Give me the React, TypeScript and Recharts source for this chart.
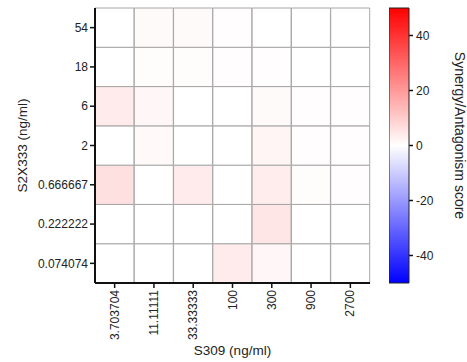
import React from "react";
import { BarChart, Bar, XAxis, YAxis, Cell } from "recharts";

const xLabels = ["3.703704", "11.11111", "33.33333", "100", "300", "900", "2700"];
// rows listed bottom -> top
const yLabels = ["0.074074", "0.222222", "0.666667", "2", "6", "18", "54"];
const scores: number[][] = [
  [0, 0, 0, 4, 1.5, 0, 0], // 0.074074
  [0, 0, 0, 0, 5, 0, 0], // 0.222222
  [6, 0, 4, 0, 3.5, 0.5, 0.3], // 0.666667
  [0, 1.2, 0, 0, 2, 0.3, 0.3], // 2
  [4, 1.5, 0, 0, 1, 0.3, 0.3], // 6
  [0, 0.5, 0.5, 0.3, 0.3, 0, 0], // 18
  [0, 1, 1, 0.4, 0, 0, 0], // 54
];
const colorTicks = [-40, -20, 0, 20, 40];
const colorMin = -50;
const colorMax = 50;

const FONT = "'Liberation Sans', Arial, sans-serif";
const TXT = "#222";

function scoreColor(v: number): string {
  const t = Math.max(-1, Math.min(1, v / colorMax));
  if (t >= 0) {
    const g = Math.round(255 * (1 - t));
    return `rgb(255,${g},${g})`;
  }
  const r = Math.round(255 * (1 + t));
  return `rgb(${r},${r},255)`;
}

const rowKeys = yLabels.map((_, i) => `r${i}`);
const data = xLabels.map((x) => {
  const o: Record<string, any> = { x };
  rowKeys.forEach((k) => (o[k] = 1));
  return o;
});
const yTicks = yLabels.map((_, i) => i + 0.5);

const XTick = (props: any) => {
  const { x, y, payload } = props;
  return (
    <g transform={`translate(${x},${y})`}>
      <text x={0} y={0} dy={4} transform="rotate(-90)" textAnchor="end" fontSize={12} fontFamily={FONT} fill={TXT}>
        {payload.value}
      </text>
    </g>
  );
};

const XLabel = (props: any) => {
  const vb = props.viewBox || {};
  const cx = vb.x + vb.width / 2;
  return (
    <text x={cx} y={355} textAnchor="middle" fontSize={13.5} fontFamily={FONT} fill={TXT}>
      S309 (ng/ml)
    </text>
  );
};

const YLabel = (props: any) => {
  const vb = props.viewBox || {};
  const cy = vb.y + vb.height / 2;
  const cx = 22;
  return (
    <text
      x={cx}
      y={cy}
      transform={`rotate(-90, ${cx}, ${cy})`}
      textAnchor="middle"
      dominantBaseline="central"
      fontSize={13.5}
      fontFamily={FONT}
      fill={TXT}
    >
      S2X333 (ng/ml)
    </text>
  );
};

const CLabel = (props: any) => {
  const vb = props.viewBox || {};
  const cx = vb.x + 51;
  const cy = vb.y + vb.height / 2 - 10;
  return (
    <text
      x={cx}
      y={cy}
      transform={`rotate(90, ${cx}, ${cy})`}
      textAnchor="middle"
      dominantBaseline="central"
      fontSize={14}
      fontFamily={FONT}
      fill={TXT}
    >
      Synergy/Antagonism score
    </text>
  );
};

const colorData = [{ name: "c", range: [colorMin, colorMax] }];

export default function App() {
  return (
    <div style={{ position: "absolute", left: 0, top: 0, width: 467, height: 362, background: "#fff" }}>
      <div style={{ position: "absolute", left: 0, top: 0 }}>
        <BarChart
          width={467}
          height={362}
          data={data}
          margin={{ top: 8, right: 97, bottom: 24, left: 0 }}
          barCategoryGap={0}
          barGap={0}
        >
          <XAxis
            dataKey="x"
            type="category"
            height={55}
            tick={<XTick />}
            tickSize={5}
            tickMargin={2}
            tickLine={{ stroke: "#111", strokeWidth: 1.5 }}
            axisLine={{ stroke: "#111", strokeWidth: 2 }}
            interval={0}
            label={<XLabel />}
          />
          <XAxis
            xAxisId="top"
            dataKey="x"
            orientation="top"
            height={0}
            tick={false}
            tickLine={false}
            axisLine={{ stroke: "#111", strokeWidth: 2 }}
          />
          <YAxis
            type="number"
            domain={[0, 7]}
            ticks={yTicks}
            width={95}
            tickSize={5}
            tickMargin={2}
            tickFormatter={(v: number) => yLabels[Math.floor(v)]}
            tick={{ fontSize: 12, fontFamily: FONT, fill: TXT }}
            tickLine={{ stroke: "#111", strokeWidth: 1.5 }}
            axisLine={{ stroke: "#111", strokeWidth: 2 }}
            label={<YLabel />}
          />
          <YAxis
            yAxisId="right"
            orientation="right"
            type="number"
            domain={[0, 7]}
            width={0}
            tick={false}
            tickLine={false}
            axisLine={{ stroke: "#111", strokeWidth: 2 }}
          />
          {rowKeys.map((k, ri) => (
            <Bar key={k} dataKey={k} stackId="a" isAnimationActive={false}>
              {xLabels.map((_, ci) => (
                <Cell key={ci} fill={scoreColor(scores[ri][ci])} stroke="#a6a6a6" strokeWidth={1} />
              ))}
            </Bar>
          ))}
        </BarChart>
      </div>
      <div style={{ position: "absolute", left: 389, top: 0 }}>
        <BarChart
          width={78}
          height={362}
          data={colorData}
          margin={{ top: 8, right: 0, bottom: 79, left: 0 }}
          barCategoryGap={0}
        >
          <defs>
            <linearGradient id="cbar" x1="0" y1="1" x2="0" y2="0">
              <stop offset="0%" stopColor="#0000ff" />
              <stop offset="50%" stopColor="#ffffff" />
              <stop offset="100%" stopColor="#ff0000" />
            </linearGradient>
          </defs>
          <XAxis dataKey="name" hide />
          <YAxis
            orientation="right"
            type="number"
            domain={[colorMin, colorMax]}
            ticks={colorTicks}
            width={58}
            tickSize={4}
            tickMargin={3}
            axisLine={false}
            tickLine={{ stroke: "#111", strokeWidth: 1.5 }}
            tick={{ fontSize: 12, fontFamily: FONT, fill: TXT }}
            label={<CLabel />}
          />
          <Bar dataKey="range" fill="url(#cbar)" stroke="#222" strokeWidth={1} isAnimationActive={false} />
        </BarChart>
      </div>
    </div>
  );
}
